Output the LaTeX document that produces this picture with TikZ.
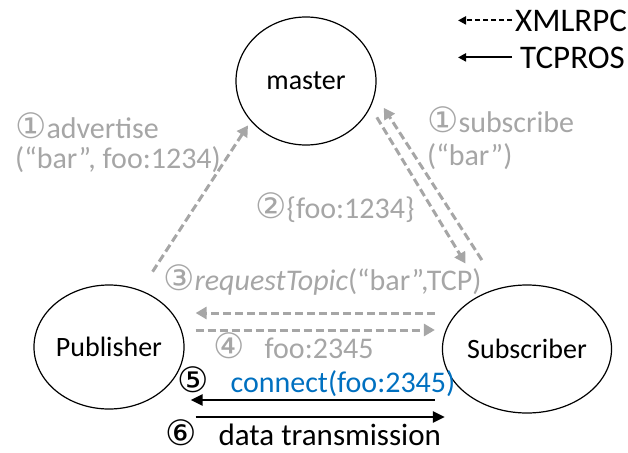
\documentclass[tikz,border=0pt]{standalone}
\usepackage{fontspec}
\setmainfont{Carlito}
\newfontfamily\circfont{DejaVu Sans}
\usetikzlibrary{shapes.geometric,arrows.meta}
\definecolor{lblgray}{HTML}{A6A6A6}
\definecolor{connblue}{HTML}{0070C0}
\newcommand\cnum[1]{{\circfont\fontsize{35}{40}\selectfont #1}}

\begin{document}
\begin{tikzpicture}[x=1pt,y=-1pt,font=\fontsize{28}{34}\selectfont,
   peer/.style={ellipse,draw,line width=1.2pt,inner sep=0pt},
   lbl/.style={anchor=base west,inner sep=0pt,text=lblgray,font=\fontsize{30}{36}\selectfont},
   legend/.style={anchor=base west,inner sep=0pt,font=\fontsize{33}{38}\selectfont},
   xml/.style={draw=lblgray,line width=3pt,dash pattern=on 8pt off 4pt,-{Triangle[length=11pt,width=12pt]}},
   tcp/.style={draw=black,line width=2.5pt,-{Triangle[length=12pt,width=11pt]}}]
   \useasboundingbox (0,0) rectangle (628,452);
   % Peers
   \node [peer,minimum width=140pt,minimum height=128pt] (master) at (306,81) {master};
   \node [peer,minimum width=150pt,minimum height=124pt] (pub) at (109,347) {Publisher};
   \node [peer,minimum width=140pt,minimum height=128pt] (sub) at (527,349) {Subscriber};
   % Legend
   \node [legend] (xmlrpc) at (515,31) {XMLRPC};
   \node [legend] (tcpros) at (520,68) {TCPROS};
   \coordinate (xmlTip) at ([xshift=-57pt]xmlrpc.west);
   \coordinate (tcpTip) at ([xshift=-62pt]tcpros.west);
   \draw [line width=2pt,dash pattern=on 5pt off 3pt,-{Triangle[length=8pt,width=8pt]}] ([xshift=-3pt]xmlrpc.west) -- (xmlTip);
   \draw [line width=2pt,-{Triangle[length=8pt,width=8pt]}] ([xshift=-8pt]tcpros.west) -- (tcpTip);
   % XMLRPC calls
   \draw [xml,shorten <=22pt,shorten >=5pt] (pub.61) -- (master.216);
   \draw [xml,shorten <=12pt,shorten >=35pt] (master.338) -- (sub.128);
   \draw [xml,shorten <=33pt,shorten >=16pt] (sub.114) -- (master.349);
   \draw [xml] ([shift={(-7,-36)}]sub.west) -- ([shift={(11,-34)}]pub.east);
   \draw [xml] ([shift={(11,-17)}]pub.east) -- ([shift={(-7,-19)}]sub.west);
   % TCPROS
   \draw [tcp] ([shift={(-7,51)}]sub.west) -- ([shift={(6,53)}]pub.east);
   \draw [tcp] ([shift={(11,70)}]pub.east) -- ([shift={(3,68)}]sub.west);
   % Labels
   \node [lbl] (adv1) at (15,138) {\cnum{①}advertise};
   \node [lbl] (adv2) at (15,168) {(“bar”, foo:1234)};
   \node [lbl] (subs1) at (427,132) {\cnum{①}subscribe};
   \node [lbl] (subs2) at (427,165) {(“bar”)};
   \node [lbl] (reply) at (255,218) {\cnum{②}\{foo:1234\}};
   \node [lbl] (req) at (163,290) {\cnum{③}\textit{requestTopic}(“bar”,TCP)};
   \node [lbl] (resp) at (213,358) {\cnum{④}\hspace{20pt}foo:2345};
   \node [lbl,text=connblue] (conn) at (177,392) {\textcolor{black}{\cnum{⑤}}\hspace{22pt}connect(foo:2345)};
   \node [lbl,text=black,font=\fontsize{31}{36}\selectfont] (data) at (165,445) {\cnum{⑥}\hspace{22pt}data transmission};
\end{tikzpicture}
\end{document}
